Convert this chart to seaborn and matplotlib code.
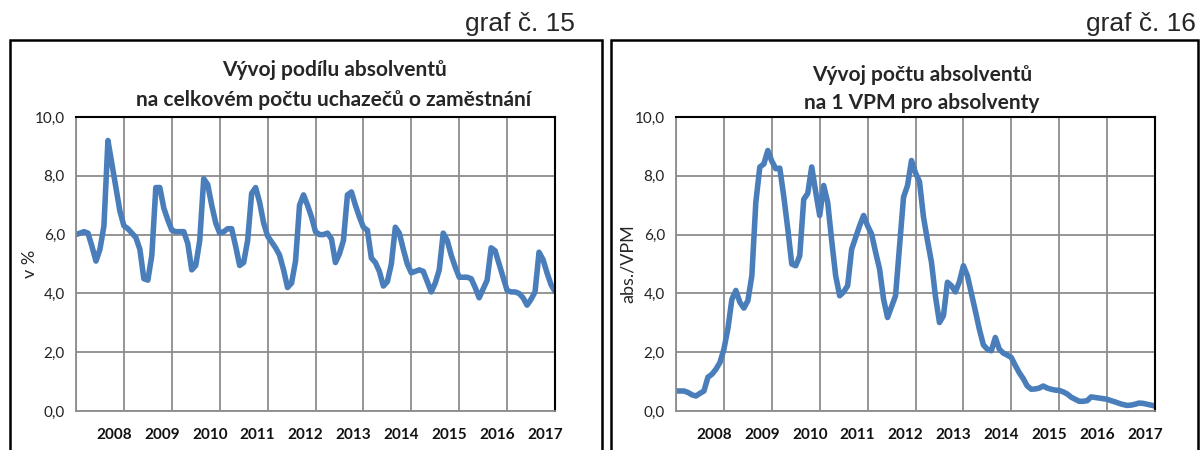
import pandas as pd
import matplotlib.pyplot as plt
import seaborn as sns
from matplotlib.patches import Rectangle

# monthly values, 121 points (left: share of graduates in %, right: graduates per vacancy)
share_pct = [
    6.0, 6.05, 6.1, 6.05, 5.6, 5.1, 5.5, 6.3, 9.2, 8.4, 7.6, 6.8,
    6.3, 6.2, 6.05, 5.9, 5.5, 4.5, 4.45, 5.3, 7.6, 7.6, 6.9, 6.5,
    6.15, 6.1, 6.1, 6.1, 5.7, 4.8, 4.95, 5.8, 7.9, 7.7, 7.0, 6.4,
    6.05, 6.1, 6.2, 6.2, 5.6, 4.95, 5.05, 5.8, 7.4, 7.6, 7.1, 6.4,
    5.95, 5.75, 5.55, 5.3, 4.8, 4.2, 4.35, 5.1, 7.0, 7.35, 7.0, 6.6,
    6.1, 6.0, 6.0, 6.05, 5.85, 5.05, 5.35, 5.8, 7.35, 7.45, 7.0, 6.6,
    6.25, 6.15, 5.2, 5.05, 4.75, 4.25, 4.4, 5.0, 6.25, 6.05, 5.5, 5.0,
    4.7, 4.75, 4.8, 4.75, 4.4, 4.05, 4.35, 4.8, 6.05, 5.8, 5.3, 4.9,
    4.55, 4.55, 4.55, 4.5, 4.2, 3.85, 4.15, 4.45, 5.55, 5.45, 5.0, 4.55,
    4.1, 4.05, 4.05, 4.0, 3.85, 3.6, 3.8, 4.05, 5.4, 5.15, 4.7, 4.3,
    4.06,
]
grads_per_vpm = [
    0.68, 0.68, 0.68, 0.63, 0.55, 0.51, 0.6, 0.68, 1.15, 1.25, 1.42, 1.65,
    2.1, 2.8, 3.8, 4.1, 3.7, 3.5, 3.75, 4.6, 7.1, 8.3, 8.4, 8.86,
    8.5, 8.24, 8.26, 7.3, 6.2, 5.0, 4.94, 5.28, 7.2, 7.4, 8.3, 7.45,
    6.65, 7.67, 7.1, 5.8, 4.6, 3.92, 4.05, 4.26, 5.5, 5.9, 6.3, 6.65,
    6.3, 6.02, 5.4, 4.83, 3.8, 3.18, 3.55, 3.92, 5.6, 7.27, 7.67, 8.52,
    8.1, 7.8, 6.6, 5.8, 5.06, 3.9, 3.01, 3.24, 4.38, 4.26, 4.05, 4.4,
    4.94, 4.6, 4.0, 3.4, 2.78, 2.25, 2.1, 2.05, 2.5, 2.1, 1.97, 1.9,
    1.82, 1.55, 1.3, 1.1, 0.85, 0.74, 0.75, 0.78, 0.85, 0.78, 0.74, 0.71,
    0.7, 0.65, 0.58, 0.47, 0.4, 0.33, 0.33, 0.35, 0.48, 0.46, 0.44, 0.42,
    0.4, 0.35, 0.31, 0.26, 0.22, 0.19, 0.2, 0.23, 0.27, 0.26, 0.23, 0.2,
    0.17,
]
years = ["2008", "2009", "2010", "2011", "2012", "2013", "2014", "2015", "2016", "2017"]

titles = [("Vývoj podílu absolventů", "na celkovém počtu uchazečů o zaměstnání"),
          ("Vývoj počtu absolventů", "na 1 VPM pro absolventy")]
ylabels = ["v %", "abs./VPM"]
graf_labels = ["graf č. 15", "graf č. 16"]

df = pd.DataFrame({"mesic": range(len(share_pct)),
                   "podil": share_pct,
                   "na_vpm": grads_per_vpm})

sns.set_style("white")
plt.rcParams["font.family"] = ["Lato", "DejaVu Sans"]

W, H = 1203, 450
fig = plt.figure(figsize=(W / 100, H / 100), dpi=100)

line_col = "#4a7ebb"
grid_col = "#8c8c8c"

# boxes around each chart (bottom edges are cut off)
for x0, x1 in [(10, 602), (611, 1198)]:
    fig.patches.append(Rectangle((x0 / W, -0.05), (x1 - x0) / W, (H - 40) / H + 0.05,
                                 transform=fig.transFigure, fill=False,
                                 edgecolor="black", linewidth=1.8))

# (column, axes left px, title centre px, title line y px, graf label right px, ylabel x px)
panels = [("podil", 76, 334, (70, 100), 575, 30),
          ("na_vpm", 676, 922, (75, 103), 1196, 628)]
for i, (col, ax_left, title_x, title_y, graf_x, ylab_x) in enumerate(panels):
    ax = fig.add_axes([ax_left / W, 39 / H, 479 / W, 294 / H])
    sns.lineplot(data=df, x="mesic", y=col, ax=ax, color=line_col, linewidth=4,
                 solid_joinstyle="round", solid_capstyle="round")
    ax.set_xlim(0, len(df) - 1)
    ax.set_ylim(0, 10)
    ax.set_yticks([0, 2, 4, 6, 8, 10])
    ax.set_yticklabels([f"{v:.1f}".replace(".", ",") for v in [0, 2, 4, 6, 8, 10]])
    ax.set_xticks(range(0, len(df), 12), minor=True)
    ax.set_xticks([9.5 + 12 * k for k in range(len(years))])
    ax.set_xticklabels(years, fontweight="bold")
    ax.tick_params(axis="both", which="both", length=0)
    ax.tick_params(axis="y", labelsize=11, pad=8, colors="#222222")
    ax.tick_params(axis="x", labelsize=11, pad=12, colors="#111111")
    ax.grid(True, which="minor", axis="x", color=grid_col, linewidth=1.3)
    ax.grid(True, which="major", axis="y", color=grid_col, linewidth=1.3)
    ax.set_axisbelow(True)
    for side in ["left", "bottom"]:
        ax.spines[side].set_color(grid_col)
        ax.spines[side].set_linewidth(1.3)
    for side in ["top", "right"]:
        ax.spines[side].set_color("black")
        ax.spines[side].set_linewidth(1.5)
    ax.set_xlabel("")
    ax.set_ylabel(ylabels[i], fontsize=13, va="center")
    ax.yaxis.set_label_coords((ylab_x - ax_left) / 479, 0.5)

    for line, ty in zip(titles[i], title_y):
        fig.text(title_x / W, 1 - ty / H, line, ha="center", va="center",
                 fontsize=15, fontweight="bold")
    fig.text(graf_x / W, 1 - 24 / H, graf_labels[i], ha="right", va="center",
             fontsize=19, family="Liberation Sans")

fig.savefig("out.png", dpi=100)
